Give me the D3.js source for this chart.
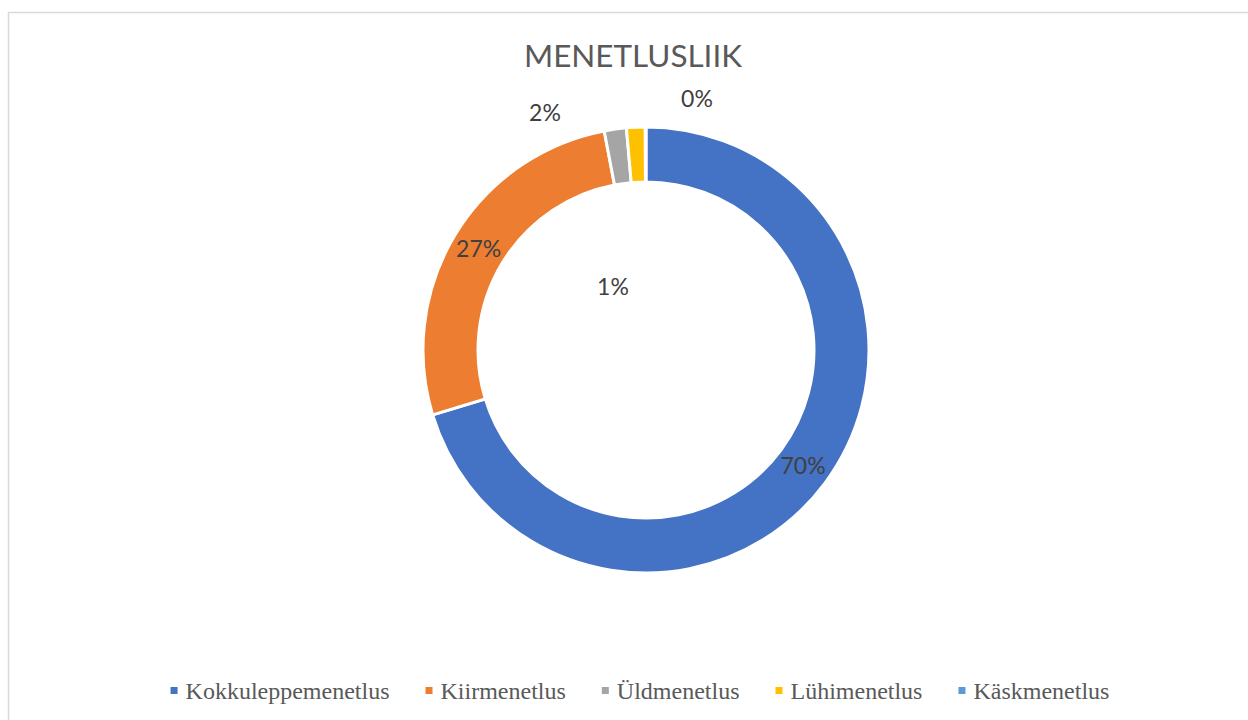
<!DOCTYPE html>
<html><head><meta charset="utf-8">
<script src="https://cdn.jsdelivr.net/npm/d3@7"></script>
<style>html,body{margin:0;padding:0;background:#fff;}</style>
</head><body>
<svg id="c" width="1248" height="720"></svg>
<script>
const title = "MENETLUSLIIK";
const categories = ["Kokkuleppemenetlus", "Kiirmenetlus", "Üldmenetlus", "Lühimenetlus", "Käskmenetlus"];
const values = [70.3, 26.7, 1.6, 1.35, 0.05];
const colors = ["#4472C4", "#ED7D31", "#A5A5A5", "#FFC000", "#5B9BD5"];
// label placement: null = slice centroid, otherwise offset from chart centre
const labelOffsets = [null, null, [-101, -237], [-33, -63], [51, -251]];

const svg = d3.select("#c");
const W = 1248, H = 720;
svg.append("rect").attr("x", 8.5).attr("y", 12.5).attr("width", W).attr("height", H)
  .attr("fill", "#fff").attr("stroke", "#d9d9d9").attr("stroke-width", 1.5);

svg.append("text").attr("x", 633).attr("y", 67).attr("text-anchor", "middle")
  .attr("font-family", "Lato, 'Open Sans', sans-serif").attr("font-size", 31)
  .attr("textLength", 218).attr("lengthAdjust", "spacingAndGlyphs")
  .attr("fill", "#595959").text(title);

const cx = 646, cy = 350, rOut = 223, rIn = 168;
const total = d3.sum(values);
const pie = d3.pie().sort(null).value(d => d)(values);
const arc = d3.arc().innerRadius(rIn).outerRadius(rOut);
const g = svg.append("g").attr("transform", `translate(${cx},${cy})`);
g.selectAll("path").data(pie).join("path")
  .attr("d", arc).attr("fill", (d, i) => colors[i])
  .attr("stroke", "#fff").attr("stroke-width", 3).attr("stroke-linejoin", "miter");

const fmt = d3.format(".0%");
g.selectAll("text.lbl").data(pie).join("text").attr("class", "lbl")
  .attr("transform", (d, i) => {
    const p = labelOffsets[i] || arc.centroid(d);
    return `translate(${p[0]},${p[1]})`;
  })
  .attr("text-anchor", "middle").attr("dy", "0.35em")
  .attr("font-family", "Lato, 'Open Sans', sans-serif").attr("font-size", 23)
  .attr("fill", "#404040")
  .text(d => fmt(d.data / total));

// legend
const lg = svg.append("g");
const items = lg.selectAll("g").data(categories).join("g");
items.append("rect").attr("width", 7).attr("height", 7).attr("y", -4)
  .attr("fill", (d, i) => colors[i]);
items.append("text").attr("x", 15).attr("dy", "0.35em")
  .attr("font-family", "'Liberation Serif', 'Times New Roman', serif").attr("font-size", 24)
  .attr("fill", "#595959").text(d => d);
let x = 0;
const gap = 36;
items.each(function () {
  const w = 15 + this.querySelector("text").getComputedTextLength();
  d3.select(this).attr("transform", `translate(${x},0)`);
  x += w + gap;
});
const legW = x - gap;
lg.attr("transform", `translate(${640 - legW / 2},691)`);
</script>
</body></html>
